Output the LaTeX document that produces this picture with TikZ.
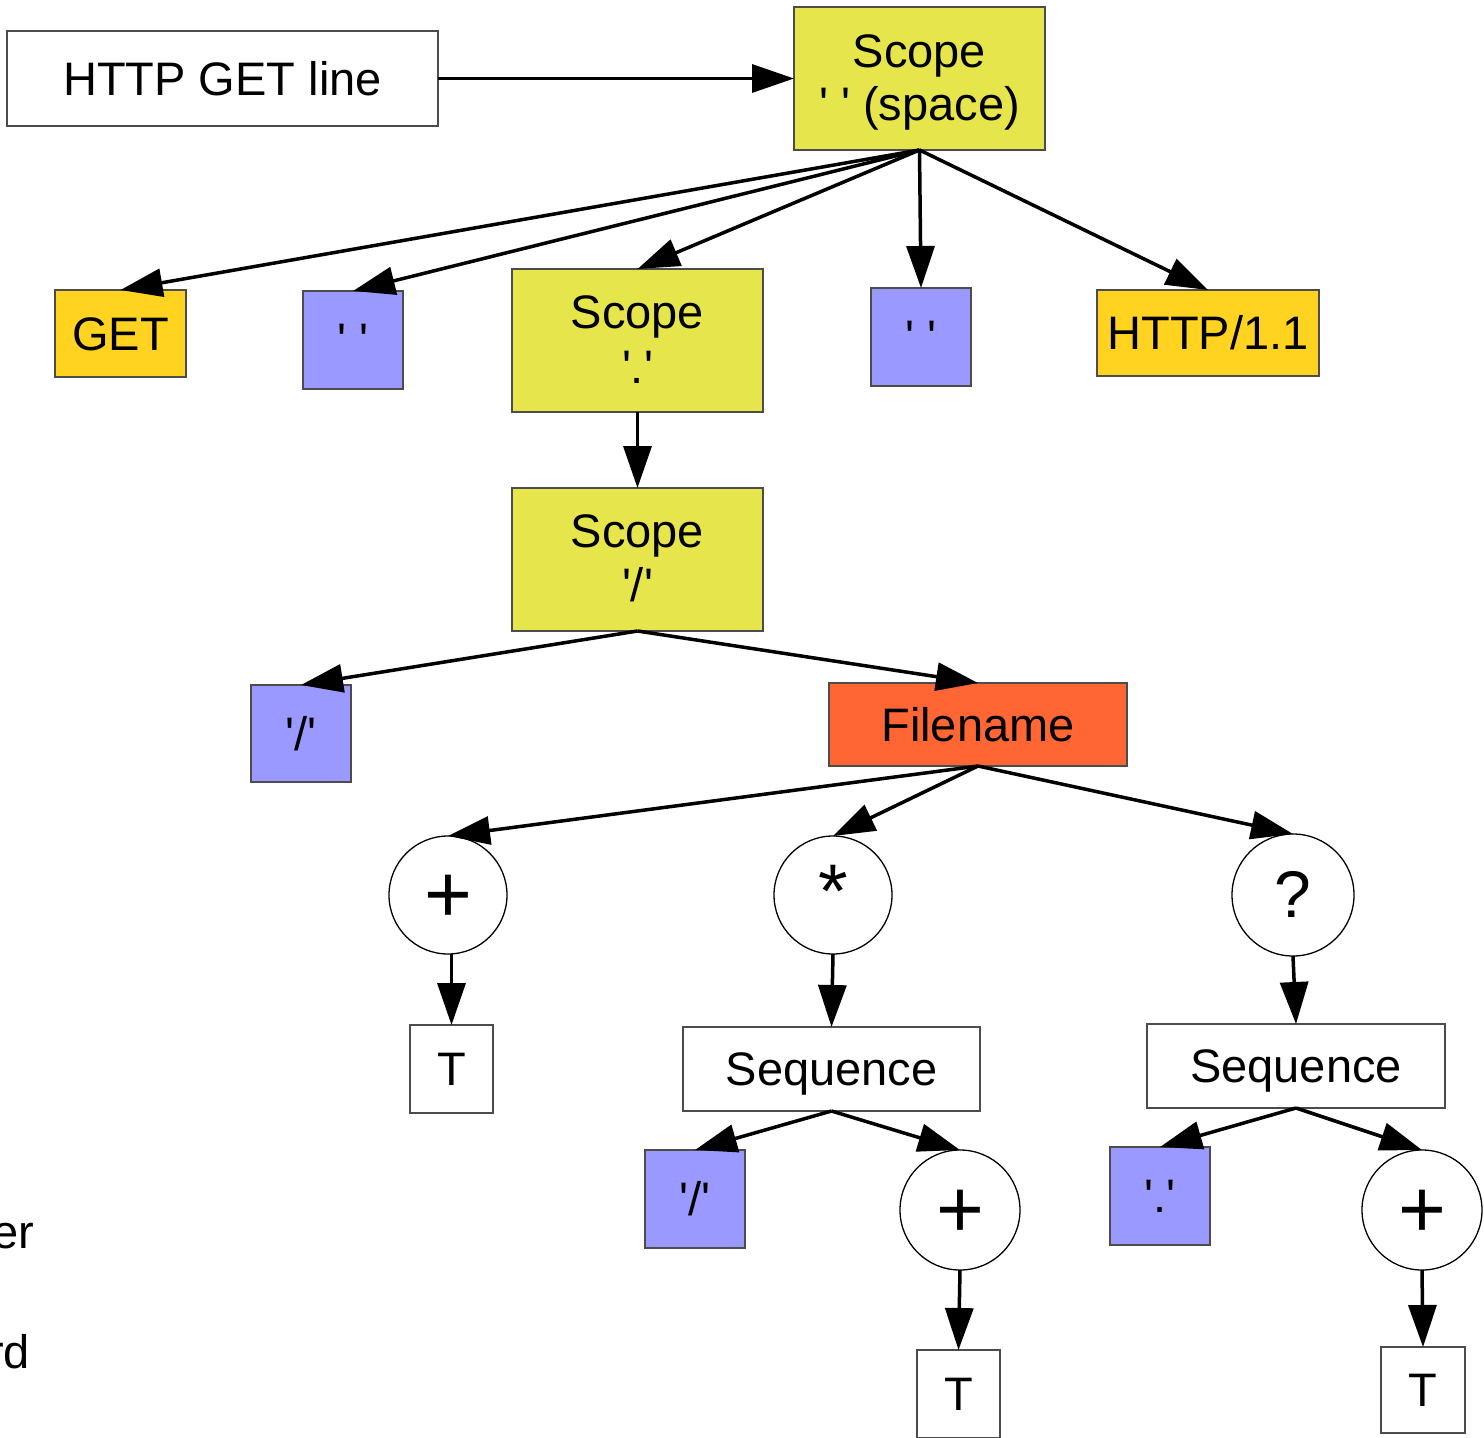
\documentclass[tikz,border=0pt]{standalone}
\usepackage{fontspec}
\setmainfont{Liberation Sans}
\usetikzlibrary{arrows.meta}
\newcommand{\sq}{\textquotesingle}
% two centred lines; the second baseline sits #1 below the node centre
\newcommand{\twolines}[4]{\smash{\lower#1\vbox{\baselineskip=#2\halign{\hfil##\hfil\cr #3\cr #4\cr}}}}
% one glyph whose baseline sits #1 below the node centre
\newcommand{\glyphat}[2]{\smash{\lower#1\hbox{#2}}}
\definecolor{scopeyellow}{HTML}{E6E64C}
\definecolor{tokengold}{HTML}{FFD320}
\definecolor{charblue}{HTML}{9999FF}
\definecolor{nameorange}{HTML}{FF6633}
\begin{document}
\begin{tikzpicture}[x=1pt,y=-1pt,
  every node/.style={inner sep=0pt, outer sep=0pt,
    font=\fontsize{47}{54}\selectfont, text height=33.6pt, text depth=0pt},
  plainbox/.style={draw=black!70, line width=1.2pt, fill=white},
  scopebox/.style={draw=black!70, line width=1.2pt, fill=scopeyellow,
    minimum width=251pt, minimum height=143pt, text height=0pt},
  tokbox/.style={draw=black!70, line width=1.2pt, fill=tokengold},
  charbox/.style={draw=black!70, line width=1.2pt, fill=charblue,
    minimum width=100pt, minimum height=98pt},
  namebox/.style={draw=black!70, line width=1.2pt, fill=nameorange},
  opcirc/.style={circle, draw=black, line width=1.3pt, fill=white,
    minimum size=#1, text height=0pt, font=\fontsize{66}{66}\selectfont},
  opcirc/.default=119pt,
  tbox/.style={plainbox, minimum width=83pt, minimum height=88pt},
  seqbox/.style={plainbox, minimum width=297pt, minimum height=84pt},
  edge/.style={line width=3.5pt, -{Triangle[length=42pt,width=28pt]}}
]
\useasboundingbox (0,0) rectangle (1484,1438);

% top row
\node[plainbox, minimum width=431pt, minimum height=95pt] (http) at (222.5,78.5) {HTTP GET line};
\node[scopebox] (sspace) at (919.5,78.5) {\twolines{41.5pt}{53pt}{Scope}{\sq\ \sq\ (space)}};

% children of the space scope
\node[tokbox, minimum width=131pt, minimum height=87pt] (get) at (120.5,333.5) {GET};
\node[charbox] (sp1) at (353,340) {\sq\ \sq};
\node[scopebox] (sdot) at (637.5,340.5) {\twolines{42.5pt}{55pt}{Scope}{\sq.\sq}};
\node[charbox] (sp2) at (921,337) {\sq\ \sq};
\node[tokbox, minimum width=222pt, minimum height=86pt] (ver) at (1208,333) {HTTP/1.1};

% path part
\node[scopebox] (sslash) at (637.5,559.5) {\twolines{42pt}{54pt}{Scope}{\sq/\sq}};
\node[charbox, minimum height=97pt] (slash) at (301,733.5) {\sq/\sq};
\node[namebox, minimum width=298pt, minimum height=83pt] (fname) at (978,724.5) {Filename};

% filename operators
\node[opcirc=118pt, font=\fontsize{82}{82}\selectfont] (plus) at (448,895) {\glyphat{27pt}{+}};
\node[opcirc=118pt, font=\fontsize{76}{76}\selectfont] (star) at (833,895) {\glyphat{22pt}{*}};
\node[opcirc=122pt] (opt) at (1293,895) {\glyphat{22pt}{?}};

\node[tbox] (t1) at (451.5,1069) {T};
\node[seqbox] (seq1) at (831.5,1069) {Sequence};
\node[seqbox, minimum width=298pt] (seq2) at (1296,1066) {Sequence};

% sequence contents
\node[charbox] (slash2) at (695,1199) {\sq/\sq};
\node[opcirc=120pt, font=\fontsize{82}{82}\selectfont] (plus2) at (960,1210) {\glyphat{27pt}{+}};
\node[tbox] (t2) at (958.5,1394) {T};
\node[charbox] (dot2) at (1160,1196) {\sq.\sq};
\node[opcirc=120pt, font=\fontsize{82}{82}\selectfont] (plus3) at (1422,1210) {\glyphat{27pt}{+}};
\node[tbox, minimum width=84pt, minimum height=86pt] (t3) at (1423,1390) {T};

% legend fragments at the left edge
\node[anchor=base east] (lg1) at (34,1248) {er};
\node[anchor=base east] (lg2) at (30,1368) {rd};

% connectors
\draw[edge] (http.east) -- (sspace.west);
\draw[edge] (sspace.south) -- (get.north);
\draw[edge] (sspace.south) -- (sp1.north);
\draw[edge] (sspace.south) -- (sdot.north);
\draw[edge] (sspace.south) -- (sp2.north);
\draw[edge] (sspace.south) -- (ver.north);
\draw[edge] (sdot.south) -- (sslash.north);
\draw[edge] (sslash.south) -- (slash.north);
\draw[edge] (sslash.south) -- (fname.north);
\draw[edge] (fname.south) -- (plus.north);
\draw[edge] (fname.south) -- (star.north);
\draw[edge] (fname.south) -- (opt.north);
\draw[edge] (t1.north |- plus.south) -- (t1.north);
\draw[edge] (star.south) -- (seq1.north);
\draw[edge] (opt.south) -- (seq2.north);
\draw[edge] (seq1.south) -- (slash2.north);
\draw[edge] (seq1.south) -- (plus2.north);
\draw[edge] (plus2.south) -- (t2.north);
\draw[edge] (seq2.south) -- (dot2.north);
\draw[edge] (seq2.south) -- (plus3.north);
\draw[edge] (plus3.south) -- (t3.north);
\end{tikzpicture}
\end{document}
